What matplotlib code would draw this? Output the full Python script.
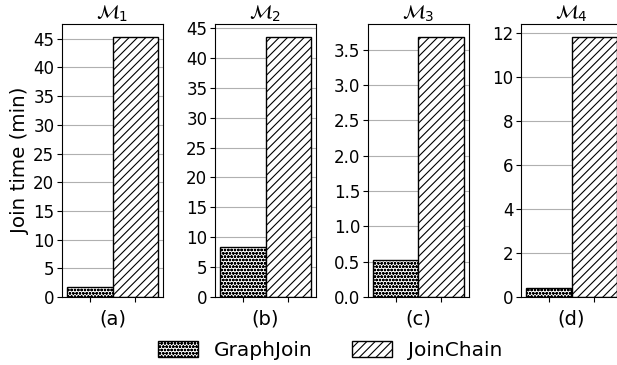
import matplotlib.pyplot as plt

titles = [r'$\mathcal{M}_1$', r'$\mathcal{M}_2$', r'$\mathcal{M}_3$', r'$\mathcal{M}_4$']
xlabels = ['(a)', '(b)', '(c)', '(d)']
graphjoin = [1.7, 8.3, 0.52, 0.43]
joinchain = [45.3, 43.5, 3.68, 11.82]
yticks = [
    [0, 5, 10, 15, 20, 25, 30, 35, 40, 45],
    [0, 5, 10, 15, 20, 25, 30, 35, 40, 45],
    [0, 0.5, 1.0, 1.5, 2.0, 2.5, 3.0, 3.5],
    [0, 2, 4, 6, 8, 10, 12],
]

plt.rcParams['hatch.linewidth'] = 0.8
fig = plt.figure(figsize=(6.17, 3.65), dpi=100)

left0 = 62 / 617
step = 153 / 617
width = 101 / 617
bottom = 68 / 365
height = 273 / 365

for i in range(4):
    ax = fig.add_axes([left0 + i * step, bottom, width, height])
    ax.set_axisbelow(True)
    ax.yaxis.grid(True, color='#b0b0b0', linewidth=0.8)
    b1 = ax.bar(0, graphjoin[i], width=1, color='white', edgecolor='black',
                hatch='ooooo', label='GraphJoin')
    b2 = ax.bar(1, joinchain[i], width=1, color='white', edgecolor='black',
                hatch='////', label='JoinChain')
    ax.set_xticks([0, 1])
    ax.set_xticklabels(['', ''])
    ax.set_yticks(yticks[i])
    if i == 2:
        ax.set_yticklabels(['%.1f' % t for t in yticks[i]])
    ax.tick_params(axis='y', labelsize=12, pad=2)
    ax.set_title(titles[i], fontsize=14, pad=2)
    ax.set_xlabel(xlabels[i], fontsize=14, labelpad=2)
    if i == 0:
        ax.set_ylabel('Join time (min)', fontsize=14.3, labelpad=2)

fig.legend([b1, b2], ['GraphJoin', 'JoinChain'], loc='lower center',
           bbox_to_anchor=(0.535, -0.035), ncol=2, frameon=False, fontsize=14.5,
           handlelength=2.0, handleheight=0.85, columnspacing=1.95)

fig.savefig('out.png', dpi=100)
